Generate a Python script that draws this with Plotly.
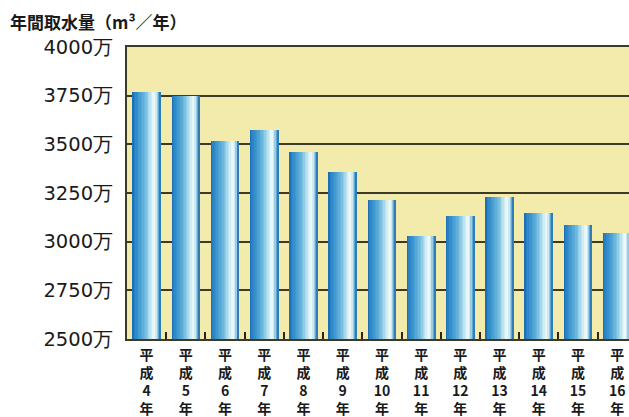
import plotly.graph_objects as go

# 年間取水量（m³／年）, 平成4年〜平成16年
years = [4, 5, 6, 7, 8, 9, 10, 11, 12, 13, 14, 15, 16]
intake = [3768, 3748, 3516, 3573, 3460, 3357, 3214, 3030, 3131, 3229, 3147, 3085, 3044]
y_ticks = [2500, 2750, 3000, 3250, 3500, 3750, 4000]
y_tick_labels = ["2500万", "2750万", "3000万", "3250万", "3500万", "3750万", "4000万"]

categories = [f"平成{y}年" for y in years]
# vertical labels: one character per line, the year number kept on one line
x_tick_labels = [f"平<br>成<br>{y}<br>年" for y in years]

# cylinder shading across each bar, left edge -> right edge
profile = [
    (0.00, (22, 100, 168)),
    (0.06, (40, 128, 196)),
    (0.20, (58, 148, 206)),
    (0.45, (112, 186, 222)),
    (0.63, (190, 228, 240)),
    (0.76, (245, 251, 250)),
    (0.84, (196, 230, 240)),
    (0.93, (88, 164, 210)),
    (1.00, (24, 104, 170)),
]


def shade(t):
    for (t0, c0), (t1, c1) in zip(profile, profile[1:]):
        if t0 <= t <= t1:
            f = (t - t0) / (t1 - t0)
            r, g, b = (round(a + (bb - a) * f) for a, bb in zip(c0, c1))
            return f"rgb({r},{g},{b})"
    return "rgb(24,104,170)"


bar_w = 0.73
strips = 20
strip_w = bar_w / strips

fig = go.Figure()
# each strip runs from its own left edge to the bar's right edge;
# later strips sit on top, so the shading has no seams
for i in range(strips):
    t = (i + 0.5) / strips
    left = -bar_w / 2 + i * strip_w
    fig.add_trace(go.Bar(
        x=categories,
        y=intake,
        width=bar_w - i * strip_w,
        offset=left,
        marker=dict(color=shade(t), line=dict(width=0)),
        showlegend=False,
        hoverinfo="x+y" if i == 0 else "skip",
    ))

grid_col = "#3e3a28"
fig.update_layout(
    width=629,
    height=417,
    margin=dict(l=127, r=0, t=47, b=78),
    paper_bgcolor="white",
    plot_bgcolor="#f3ebab",
    barmode="overlay",
    bargap=0,
    font=dict(family="Noto Sans CJK JP", color="#1a1a1a"),
    xaxis=dict(
        type="category",
        range=[-0.5, 12.3],
        tickvals=categories,
        ticktext=x_tick_labels,
        tickson="boundaries",
        ticks="inside",
        ticklen=7,
        tickwidth=2,
        tickcolor="#2a2518",
        showline=True,
        mirror=True,
        linecolor=grid_col,
        linewidth=2,
        showgrid=False,
        tickfont=dict(family="Noto Sans CJK JP", size=14, color="#1a1a1a", weight="bold"),
        ticklabelstandoff=2,
    ),
    yaxis=dict(
        range=[2500, 4000],
        tickvals=y_ticks,
        ticktext=y_tick_labels,
        showgrid=True,
        gridcolor=grid_col,
        gridwidth=1.6,
        showline=True,
        linecolor=grid_col,
        linewidth=2,
        ticks="",
        zeroline=False,
        tickfont=dict(family="DejaVu Sans", size=19.5, color="#1a1a1a"),
        ticklabelstandoff=8,
    ),
    annotations=[dict(
        text="年間取水量（m³／年）",
        xref="paper", yref="paper",
        x=-0.238, y=1.086,
        xanchor="left", yanchor="middle",
        showarrow=False,
        font=dict(family="Noto Sans CJK JP", size=17, color="#1a1a1a", weight="bold"),
    )],
)

fig.write_html("out.html")
